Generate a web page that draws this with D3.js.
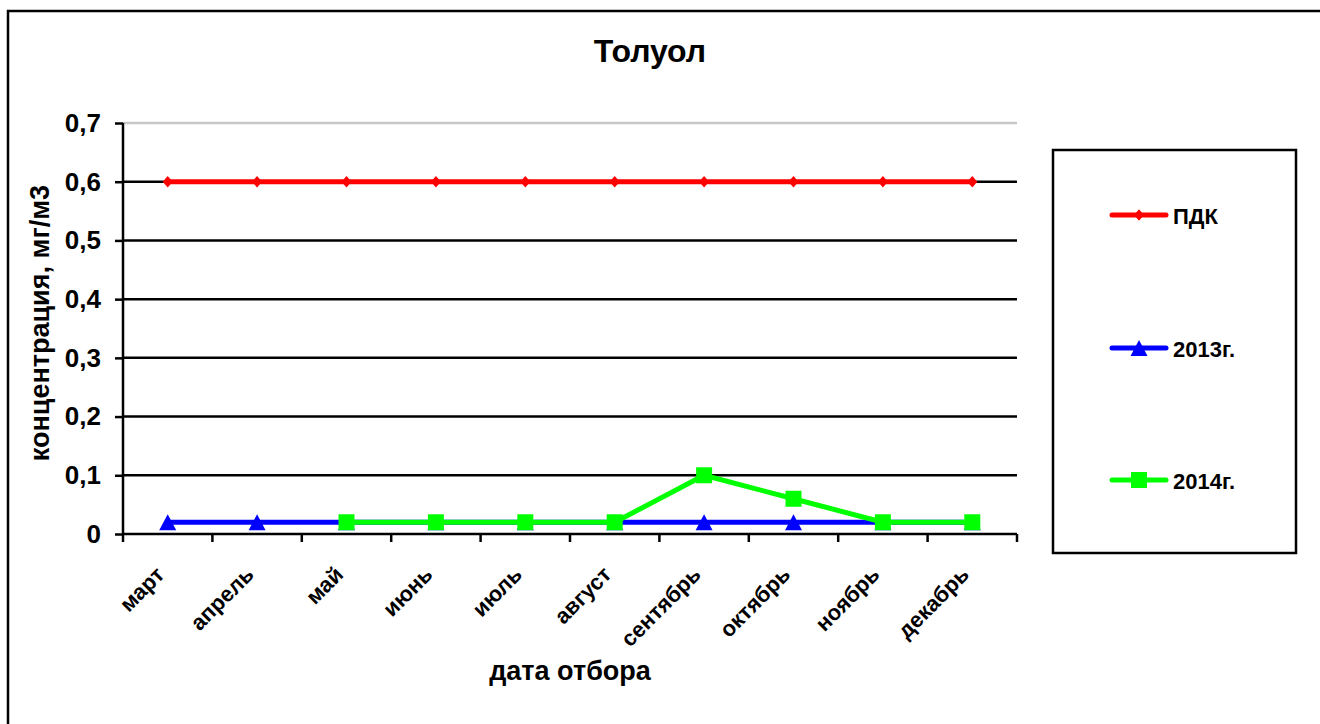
<!DOCTYPE html>
<html><head><meta charset="utf-8">
<script src="https://cdn.jsdelivr.net/npm/d3@7"></script>
<style>body{margin:0;background:#fff}svg{display:block}text{font-family:"Liberation Sans",Arial,sans-serif;font-weight:bold;fill:#000}</style>
</head><body>
<script>
const categories = ["март","апрель","май","июнь","июль","август","сентябрь","октябрь","ноябрь","декабрь"];
const pdk = [0.6,0.6,0.6,0.6,0.6,0.6,0.6,0.6,0.6,0.6];
const y2013 = [0.02,0.02,0.02,0.02,0.02,0.02,0.02,0.02,0.02,0.02];
const y2014 = [null,null,0.02,0.02,0.02,0.02,0.1,0.06,0.02,0.02];
const yTicks = [0,0.1,0.2,0.3,0.4,0.5,0.6,0.7];
const seriesNames = ["ПДК","2013г.","2014г."];
const title = "Толуол";
const yTitle = "концентрация, мг/м3";
const xTitle = "дата отбора";

const W=1320,H=724;
const svg=d3.select("body").append("svg").attr("width",W).attr("height",H);
svg.append("rect").attr("x",8).attr("y",11).attr("width",1400).attr("height",800)
  .attr("fill","none").attr("stroke","#000").attr("stroke-width",2.5);

const L=123,R=1017,T=123,B=534;
const x=d3.scaleBand().domain(categories).range([L,R]);
const y=d3.scaleLinear().domain([0,0.7]).range([B,T]);
const fmt=d=>d===0?"0":d3.format(".1f")(d).replace(".",",");

svg.append("g").selectAll("line").data(yTicks.filter(d=>d>0)).join("line")
  .attr("x1",L).attr("x2",R).attr("y1",d=>y(d)).attr("y2",d=>y(d))
  .attr("stroke",d=>d===0.7?"#c8c8c8":"#000").attr("stroke-width",2.5);

const ya=svg.append("g").attr("transform",`translate(${L},0)`)
  .call(d3.axisLeft(y).tickValues(yTicks).tickFormat(fmt).tickSize(8).tickPadding(14));
ya.select(".domain").attr("stroke","#000").attr("stroke-width",2.5).attr("d",`M0,${T}V${B}`);
ya.selectAll(".tick line").attr("stroke","#000").attr("stroke-width",2.5);
ya.selectAll(".tick text").style("font-size","26px").style("font-family","Liberation Sans").style("font-weight","bold");

const xa=svg.append("g").attr("transform",`translate(0,${B})`);
xa.append("line").attr("x1",L).attr("x2",R).attr("y1",0).attr("y2",0).attr("stroke","#000").attr("stroke-width",2.5);
const bounds=categories.map(c=>x(c)).concat([R]);
xa.selectAll("line.t").data(bounds).join("line").attr("class","t")
  .attr("x1",d=>d).attr("x2",d=>d).attr("y1",0).attr("y2",8).attr("stroke","#000").attr("stroke-width",2.5);
xa.selectAll("text.xl").data(categories).join("text").attr("class","xl")
  .attr("transform",d=>`translate(${x(d)+x.bandwidth()/2-2},${42}) rotate(-45)`)
  .attr("text-anchor","end").style("font-size","22px").text(d=>d);

// marker shapes (size = full width in px)
const tri={draw(ctx,s){const w=s/2,h=s*0.47;ctx.moveTo(0,-h);ctx.lineTo(w,h);ctx.lineTo(-w,h);ctx.closePath();}};
const sq={draw(ctx,s){const h=s/2;ctx.rect(-h,-h,s,s);}};
const dia={draw(ctx,s){const w=s/2,h=s*0.58;ctx.moveTo(0,-h);ctx.lineTo(w,0);ctx.lineTo(0,h);ctx.lineTo(-w,0);ctx.closePath();}};

const cx=c=>x(c)+x.bandwidth()/2;
function series(vals,color,shape,size){
  const data=vals.map((v,i)=>({c:categories[i],v})).filter(d=>d.v!==null);
  svg.append("path").datum(data).attr("fill","none").attr("stroke",color).attr("stroke-width",5)
    .attr("stroke-linejoin","round")
    .attr("d",d3.line().x(d=>cx(d.c)).y(d=>y(d.v)));
  svg.append("g").selectAll("path").data(data).join("path")
    .attr("transform",d=>`translate(${cx(d.c)},${y(d.v)})`)
    .attr("d",d3.symbol().type(shape).size(size)).attr("fill",color);
}
series(pdk,"#ff0000",dia,10);
series(y2013,"#0000ff",tri,17);
series(y2014,"#00ff00",sq,16);

svg.append("text").attr("x",650).attr("y",62).attr("text-anchor","middle").style("font-size","32px").text(title);
svg.append("text").attr("transform",`translate(49,323) rotate(-90)`).attr("text-anchor","middle").style("font-size","27px").text(yTitle);
svg.append("text").attr("x",570).attr("y",680).attr("text-anchor","middle").style("font-size","27px").text(xTitle);

svg.append("rect").attr("x",1053).attr("y",150).attr("width",243).attr("height",403)
  .attr("fill","none").attr("stroke","#000").attr("stroke-width",2.5);
const leg=[{n:seriesNames[0],c:"#ff0000",s:dia,z:10,y:215},
 {n:seriesNames[1],c:"#0000ff",s:tri,z:17,y:348},
 {n:seriesNames[2],c:"#00ff00",s:sq,z:16,y:480}];
const lg=svg.append("g").selectAll("g").data(leg).join("g").attr("transform",d=>`translate(0,${d.y})`);
lg.append("line").attr("x1",1112).attr("x2",1166).attr("stroke",d=>d.c).attr("stroke-width",5).attr("stroke-linecap","round");
lg.append("path").attr("transform","translate(1139,0)").attr("d",d=>d3.symbol().type(d.s).size(d.z)()).attr("fill",d=>d.c);
lg.append("text").attr("x",1173).attr("y",9).style("font-size","22px").text(d=>d.n);
</script>
</body></html>
